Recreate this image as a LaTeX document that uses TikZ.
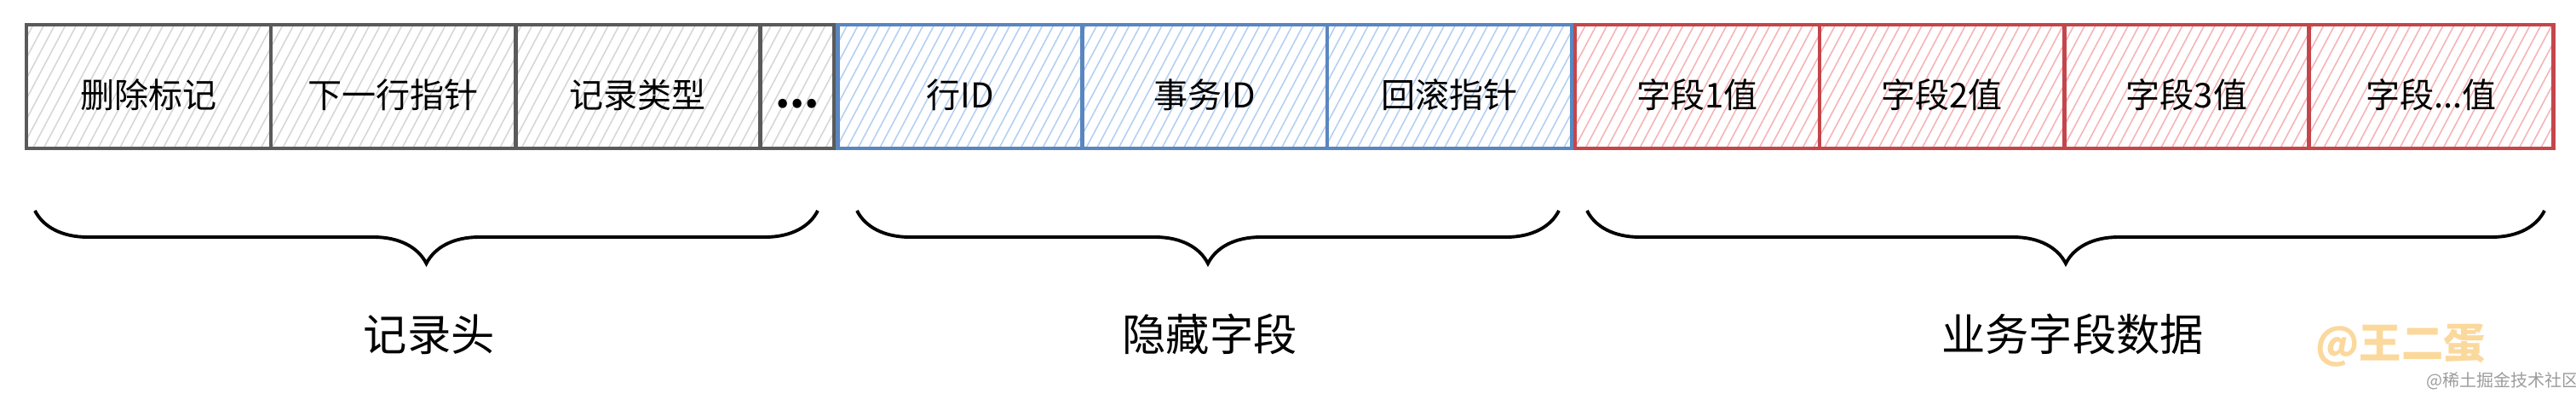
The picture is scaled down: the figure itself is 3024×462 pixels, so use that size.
\documentclass[tikz,border=0pt]{standalone}
\usepackage{fontspec}
\newfontfamily\cjk{Noto Sans CJK SC}
\usepackage{tikz}
\usetikzlibrary{positioning,patterns.meta,decorations.pathreplacing}

\definecolor{hdline}{HTML}{5A5A5A}
\definecolor{hdhatch}{HTML}{D6D6D6}
\definecolor{hidline}{HTML}{5A86C0}
\definecolor{hidhatch}{HTML}{B4CFF2}
\definecolor{bizline}{HTML}{C4464A}
\definecolor{bizhatch}{HTML}{F6B3B6}
\definecolor{markcolor}{HTML}{FBD89C}
\definecolor{sitecolor}{HTML}{9C9C9C}

\tikzset{
  field/.style={rectangle, minimum width=2.87cm, minimum height=1.45cm, line width=1.3pt,
    outer sep=0pt, inner sep=0pt, text height=0.5cm, text depth=0cm,
    font=\cjk\fontsize{11.4}{12}\selectfont},
  hdfield/.style={field, draw=hdline, pattern={Lines[angle=62,distance=3.2pt,line width=0.45pt]}, pattern color=hdhatch},
  hidfield/.style={field, draw=hidline, pattern={Lines[angle=62,distance=3.2pt,line width=0.45pt]}, pattern color=hidhatch},
  bizfield/.style={field, draw=bizline, pattern={Lines[angle=62,distance=3.2pt,line width=0.45pt]}, pattern color=bizhatch},
  bracket/.style={decorate, decoration={brace, mirror, amplitude=0.62cm}, line width=1.1pt},
  grouplabel/.style={font=\cjk\fontsize{14.6}{16}\selectfont}
}

\begin{document}
\begin{tikzpicture}[x=0.01cm, y=-0.01cm]
      \useasboundingbox (0,0) rectangle (3024,462);

      \node[hdfield] (delmark) at (174.5,101.5) {删除标记};
      \node[hdfield] (nextptr) [right=0pt of delmark] {下一行指针};
      \node[hdfield] (rectype) [right=0pt of nextptr] {记录类型};
      \node[hdfield, minimum width=0.87cm] (hdmore) [right=0pt of rectype] {\bfseries\fontsize{14}{16}\selectfont ...};

      \node[hidfield] (rowid) [right=0.04cm of hdmore] {行ID};
      \node[hidfield] (trxid) [right=0pt of rowid] {事务ID};
      \node[hidfield] (rollptr) [right=0pt of trxid] {回滚指针};

      \node[bizfield] (col1) [right=0.04cm of rollptr] {字段1值};
      \node[bizfield] (col2) [right=0pt of col1] {字段2值};
      \node[bizfield] (col3) [right=0pt of col2] {字段3值};
      \node[bizfield] (colmore) [right=0pt of col3] {字段...值};

      \draw[bracket] (41,247) -- (960,247);
      \draw[bracket] (1006,247) -- (1830,247);
      \draw[bracket] (1863,247) -- (2987,247);

      \node[grouplabel] (hdlabel) at (504,392) {记录头};
      \node[grouplabel] (hidlabel) at (1420,392) {隐藏字段};
      \node[grouplabel] (bizlabel) at (2433,392) {业务字段数据};

      \node[font=\cjk\bfseries\fontsize{14}{16}\selectfont, text=markcolor] (author) at (2818,405) {@王二蛋};
      \node[font=\cjk\fontsize{5.7}{6}\selectfont, text=sitecolor] (site) at (2938,447) {@稀土掘金技术社区};
    \end{tikzpicture}
\end{document}
